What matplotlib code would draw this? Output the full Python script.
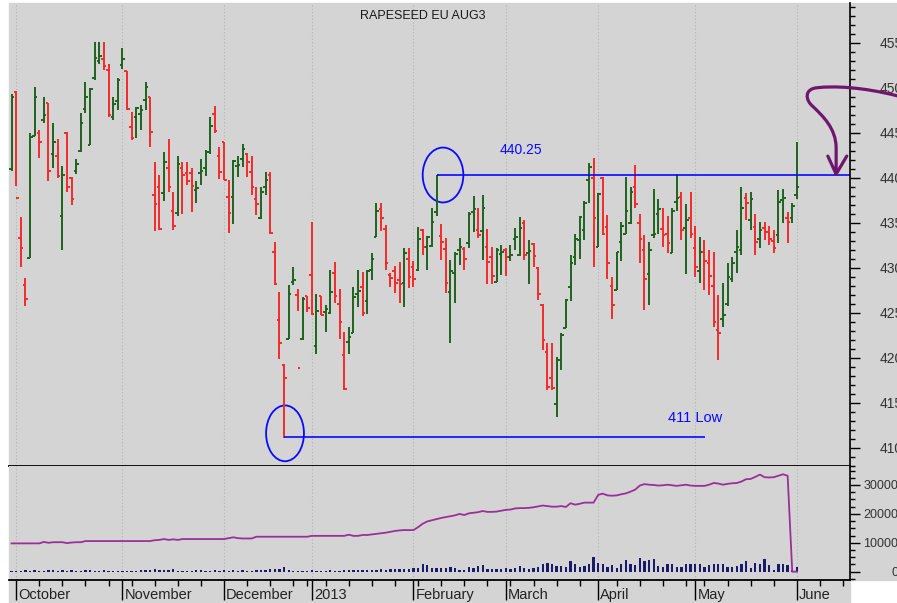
import numpy as np
import pandas as pd
import matplotlib
matplotlib.use('Agg')
import matplotlib.pyplot as plt
from matplotlib.patches import Ellipse, Rectangle, PathPatch
from matplotlib.path import Path
from matplotlib.ticker import MultipleLocator, FixedLocator, NullFormatter
from matplotlib.transforms import blended_transform_factory

plt.rcParams['font.family'] = ['Liberation Sans', 'DejaVu Sans']

# -----------------------------------------------------------------------------
# Data (daily OHLC, Sep 28 2012 -> Jun 3 2013, one value per trading day)
title = "RAPESEED EU AUG3"
holidays = ['2012-12-25', '2012-12-26', '2013-01-01', '2013-03-29', '2013-04-01', '2013-05-01']
month_names = ['October', 'November', 'December', '2013', 'February', 'March', 'April', 'May', 'June']

open_ = [
	441.0, 449.5, 433.3, 428.1, 431.1, 444.6, 445.0, 446.4, 448.3, 442.6, 442.4, 435.8, 445.0, 440.0, 440.8, 443.0, 447.6, 443.6, 451.1, 453.0, 453.2, 452.0, 446.7, 448.5,
	452.5, 451.9, 445.6, 446.7, 447.1, 448.6, 449.0, 438.1, 439.0, 438.3, 441.1, 436.3, 436.1, 441.1, 440.5, 440.5, 438.6, 440.5, 441.1, 442.9, 447.1, 442.4,
	444.0, 437.9, 437.9, 441.3, 442.1, 442.6, 440.6, 437.6, 435.5, 439.0, 440.3, 431.7, 424.2, 419.2, 422.1, 428.4, 427.0, 422.1, 426.9,
	429.2, 421.3, 426.9, 425.1, 425.0, 429.4, 426.0, 420.3, 421.8, 422.7, 427.1, 427.9, 426.3, 429.7, 433.4, 436.5, 434.3, 429.2, 429.6, 428.6, 428.3, 431.0,
	430.1, 429.7, 434.2, 432.3, 432.4, 436.2, 433.5, 432.1, 427.3, 429.4, 432.0, 432.1, 432.8, 436.2, 434.2, 434.1, 432.3, 431.2, 428.4, 431.5,
	432.0, 431.2, 433.2, 431.4, 435.0, 431.6, 432.6, 430.0, 425.9, 420.6, 417.8, 414.9, 419.7, 423.3, 427.9, 431.2, 433.1, 434.2, 439.7, 440.0,
	432.3, 440.0, 434.5, 428.0, 427.5, 432.9, 433.8, 435.0, 439.0, 435.0, 432.0, 429.3, 433.6, 436.0, 434.3, 433.8, 431.6, 437.3, 437.9, 434.4, 435.5,
	432.2, 429.6, 431.8, 430.5, 428.0, 423.1, 424.3, 426.0, 428.7, 431.8, 432.0, 437.8, 435.3, 434.5, 433.2, 434.4, 434.0, 433.0, 433.6, 437.5, 435.5, 435.5,
	438.1]
high = [
	449.3, 449.6, 435.6, 428.9, 445.0, 450.1, 445.3, 449.0, 448.3, 446.1, 444.3, 441.3, 445.1, 440.1, 442.1, 447.2, 450.6, 450.0, 455.1, 455.1, 455.1, 452.6, 449.0, 451.1,
	454.4, 451.9, 447.3, 447.8, 448.1, 450.6, 449.0, 441.8, 440.3, 442.9, 444.3, 438.4, 442.4, 441.7, 441.8, 441.1, 439.6, 442.1, 443.1, 446.7, 448.0, 443.4,
	444.0, 439.8, 442.0, 442.4, 443.8, 442.7, 442.4, 439.0, 439.0, 440.6, 440.6, 432.9, 427.3, 419.3, 428.1, 430.1, 427.6, 426.8, 426.9,
	435.1, 427.1, 426.9, 425.9, 429.7, 430.6, 427.6, 422.9, 423.4, 427.9, 429.7, 429.5, 429.7, 431.6, 437.2, 437.2, 434.7, 429.4, 430.2, 430.6, 432.2, 432.2,
	430.7, 434.5, 434.3, 433.5, 436.6, 440.3, 434.9, 433.3, 430.9, 431.8, 433.3, 432.3, 436.2, 438.0, 436.6, 438.1, 434.3, 432.3, 432.2, 432.5,
	432.2, 432.5, 434.4, 435.6, 435.3, 433.1, 432.8, 430.1, 426.0, 421.6, 421.6, 420.1, 422.7, 426.5, 431.4, 433.8, 435.7, 437.4, 441.6, 442.2,
	438.3, 440.1, 435.9, 429.0, 431.8, 435.1, 440.1, 439.0, 441.4, 436.0, 433.6, 432.9, 438.8, 437.6, 436.6, 435.7, 436.6, 440.4, 438.4, 437.1, 438.4,
	434.6, 433.4, 433.1, 432.0, 431.8, 427.0, 428.3, 430.5, 431.2, 434.2, 439.0, 438.3, 438.4, 436.0, 435.1, 435.1, 434.6, 434.2, 438.6, 438.8, 436.2, 437.2,
	444.0]
low = [
	440.8, 439.1, 430.1, 425.8, 431.1, 444.6, 442.2, 446.1, 439.6, 441.1, 440.0, 432.0, 438.4, 437.0, 440.4, 442.9, 447.2, 443.6, 450.9, 452.6, 452.0, 446.7, 446.4, 447.5,
	452.1, 447.5, 444.2, 444.4, 445.3, 447.5, 443.4, 434.1, 434.2, 437.4, 438.4, 434.2, 435.7, 436.0, 439.2, 436.2, 437.2, 439.2, 440.2, 442.6, 445.0, 439.9,
	439.7, 433.9, 434.9, 440.1, 441.2, 440.1, 438.1, 435.9, 435.4, 438.1, 433.7, 428.1, 419.9, 411.1, 422.1, 428.1, 425.2, 422.0, 425.1,
	424.7, 420.4, 424.7, 422.9, 424.9, 426.1, 422.1, 416.4, 420.4, 422.7, 425.6, 424.6, 424.9, 428.6, 433.4, 434.1, 429.8, 427.9, 427.2, 426.1, 425.6, 427.7,
	427.9, 429.6, 431.4, 429.8, 432.3, 435.7, 430.9, 427.2, 421.6, 426.1, 430.3, 429.8, 432.2, 434.0, 433.3, 430.9, 428.2, 428.2, 428.4, 429.2,
	429.1, 430.8, 432.0, 431.3, 430.9, 428.2, 430.1, 426.4, 420.9, 416.4, 416.4, 413.4, 418.6, 423.3, 426.3, 430.3, 431.0, 433.1, 437.2, 430.1,
	432.3, 433.6, 428.8, 424.3, 427.5, 430.7, 433.8, 434.9, 436.6, 430.5, 425.3, 425.9, 433.3, 433.8, 432.3, 431.6, 431.6, 436.3, 433.1, 429.3, 433.3,
	429.0, 428.3, 427.5, 427.0, 423.4, 419.8, 423.4, 425.7, 428.4, 429.4, 431.4, 435.3, 434.2, 431.4, 432.2, 433.1, 432.5, 431.6, 432.7, 435.0, 432.7, 435.0,
	437.6]
close = [
	449.0, 437.7, 432.2, 426.5, 444.5, 449.0, 444.0, 447.0, 440.8, 444.0, 440.2, 440.3, 439.0, 437.6, 441.5, 446.1, 449.0, 449.9, 453.3, 453.5, 452.4, 447.0, 448.2, 450.9,
	453.2, 447.6, 444.4, 447.7, 447.5, 450.1, 445.1, 437.1, 434.3, 441.7, 439.0, 434.6, 441.5, 440.3, 439.6, 439.1, 438.9, 440.7, 442.9, 445.7, 445.2, 440.6,
	439.8, 436.1, 441.9, 441.4, 443.2, 441.7, 439.0, 437.1, 438.4, 439.8, 433.9, 428.2, 421.6, 417.7, 427.1, 428.6, 418.9, 426.5, 425.5,
	424.9, 425.2, 424.8, 425.4, 427.3, 426.9, 424.0, 416.5, 422.3, 426.8, 427.4, 425.0, 429.6, 431.0, 436.3, 435.5, 430.5, 428.9, 428.3, 428.2, 431.6, 429.0,
	428.7, 433.2, 432.3, 433.4, 435.1, 440.25, 432.9, 428.3, 429.6, 431.5, 432.3, 431.0, 436.0, 436.5, 433.6, 436.6, 430.6, 429.1, 432.0, 431.7,
	431.2, 431.4, 433.4, 434.4, 431.4, 431.9, 431.3, 427.1, 422.0, 416.8, 416.6, 419.7, 422.5, 426.4, 430.5, 433.2, 435.6, 437.2, 441.2, 435.5,
	438.2, 433.7, 430.5, 425.9, 431.8, 434.6, 436.3, 438.4, 437.1, 433.2, 428.7, 432.0, 433.8, 436.5, 433.6, 432.8, 436.3, 437.8, 434.2, 435.3, 433.8,
	430.1, 431.8, 430.7, 429.1, 424.0, 422.7, 424.7, 429.0, 430.5, 432.3, 436.6, 437.2, 437.6, 432.9, 434.2, 434.0, 433.2, 432.2, 437.3, 437.8, 435.1, 436.9,
	439.0]

volume = [
	400, 350, 300, 450, 300, 500, 400, 350, 450, 500, 400, 550, 400, 450, 400, 400, 450, 550, 400, 400, 450, 400, 400, 350,
	300, 250, 350, 300, 700, 750, 600, 950, 700, 650, 500, 1000, 400, 350, 300, 400, 450, 500, 400, 400, 450, 350,
	450, 400, 450, 400, 550, 300, 250, 700, 750, 600, 1000, 900, 800, 1700, 700, 250, 300, 250, 200,
	550, 350, 400, 350, 450, 400, 400, 500, 450, 450, 600, 500, 650, 500, 700, 800, 750, 900, 850, 900, 1000, 1100,
	1300, 1450, 2500, 2190, 1380, 1380, 1380, 1380, 1610, 1380, 580, 460, 1610, 1380, 1960, 2190, 1040, 1040, 1040, 1040,
	1150, 1040, 1380, 1960, 1380, 1040, 1380, 1610, 2770, 3110, 2770, 1960, 1960, 1730, 3690, 2540, 1730, 1960, 2540, 5070,
	3110, 2540, 1730, 2190, 1380, 2540, 3920, 2540, 2190, 4610, 3690, 3920, 4270, 1960, 1730, 2770, 2540, 1730, 1730, 2540, 2770,
	2770, 2770, 1730, 2190, 2540, 2540, 2770, 1730, 1730, 1960, 2770, 3690, 1380, 3110, 2540, 4270, 2190, 580, 2770, 2770, 2310, 580,
	1610]

open_interest = [
	9800, 9800, 9800, 9800, 9800, 9800, 9800, 10300, 10000, 10200, 10200, 10200, 9900, 10100, 10200, 10200, 10600, 10600, 10600, 10600, 10600, 10600, 10600, 10600,
	10600, 10600, 10600, 10600, 10600, 10600, 10600, 10900, 11000, 11300, 11000, 11200, 11000, 11300, 11300, 11300, 11300, 11300, 11300, 11300, 11300, 11300,
	11300, 11600, 11900, 11600, 11500, 11500, 11500, 12100, 12100, 12100, 12100, 12100, 12100, 12100, 12100, 12100, 12100, 12100, 12100,
	12400, 12400, 12400, 12400, 12400, 12400, 12400, 12400, 12800, 12400, 12400, 12700, 12700, 12900, 13100, 13300, 13500, 13800, 14100, 14300, 14400, 14400,
	14400, 15400, 16600, 17400, 17800, 18200, 18600, 18900, 19200, 19500, 20000, 19600, 20200, 20400, 20600, 21000, 20700, 20700, 20800, 21100,
	21400, 21500, 21900, 22000, 22000, 22100, 22300, 22600, 22900, 22700, 22500, 22500, 22700, 22400, 23700, 23200, 23500, 23900, 23900, 23900,
	26600, 27000, 26400, 26300, 26400, 26800, 27100, 27700, 28400, 29800, 30300, 30100, 30000, 29800, 29900, 30100, 29900, 29700, 29900, 30100, 29800,
	29700, 29700, 29700, 30100, 30700, 30500, 30100, 30400, 30600, 30700, 31200, 32000, 32100, 32800, 33600, 32700, 32600, 32700, 33200, 33700, 33200, 0,
	0]

# -----------------------------------------------------------------------------
# Trading calendar (bars are drawn on a trading-day index, no holiday gaps)
days = pd.bdate_range('2012-09-28', '2013-06-28')
days = days[~days.isin(pd.to_datetime(holidays))]
x = np.arange(len(close))

month_idx = [i for i in range(1, len(days)) if days[i].month != days[i - 1].month]
week_idx = [i for i in range(1, len(days)) if days[i].dayofweek < days[i - 1].dayofweek]
month_idx = month_idx[:len(month_names)]

# -----------------------------------------------------------------------------
# Figure layout
BG = '#d4d4d4'
GREEN = '#1f621f'
RED = '#f42a2a'
BLUE = '#0a0aff'
PURPLE = '#6e1670'

fig = plt.figure(figsize=(8.97, 6.03), dpi=100)
fig.patch.set_facecolor('white')
fig.patches.append(Rectangle((9 / 897, 0), 841 / 897, 600 / 603, transform=fig.transFigure, color=BG, zorder=-10))
fig.patches.append(Rectangle((850 / 897, 23 / 603), 47 / 897, 577 / 603, transform=fig.transFigure, color=BG, zorder=-10))

ax = fig.add_axes([9 / 897, 137 / 603, 841 / 897, 463 / 603])
axv = fig.add_axes([9 / 897, 23 / 603, 841 / 897, 114 / 603])

xmin, xmax = -0.55, 181.5
for a in (ax, axv):
	a.set_facecolor(BG)
	a.set_xlim(xmin, xmax)
	a.spines['left'].set_visible(False)
	a.spines['top'].set_visible(False)
	a.spines['right'].set_linewidth(1.2)
	a.spines['bottom'].set_linewidth(1.3)
	a.yaxis.tick_right()
	for m in month_idx:
		a.axvline(m, color='#b4b4b4', lw=0.8, ls=(0, (1, 2)), zorder=0)

# -----------------------------------------------------------------------------
# Price panel
ax.set_ylim(407.97, 459.41)
cols = np.where(np.array(close) >= np.array(open_), GREEN, RED)
ax.vlines(x, low, high, colors=cols, lw=1.4)
ax.hlines(open_, x - 0.55, x, colors=cols, lw=1.4)
ax.hlines(close, x, x + 0.55, colors=cols, lw=1.4)

ax.yaxis.set_major_locator(MultipleLocator(5))
ax.yaxis.set_minor_locator(MultipleLocator(1))
ax.tick_params(axis='y', which='major', direction='out', length=7.2, width=1, pad=31, labelsize=10, labelcolor='#333333')
ax.tick_params(axis='y', which='minor', direction='out', length=3.6, width=1)
ax.tick_params(axis='x', which='both', bottom=False, labelbottom=False)
for lbl in ax.get_yticklabels():
	lbl.set_horizontalalignment('right')

ax.text(0.492, 0.972, title, transform=ax.transAxes, ha='center', va='center', fontsize=9, color='#1a1a1a')

# annotations
ax.hlines(440.25, 92, xmax, colors=BLUE, lw=1.2)
ax.hlines(411.2, 59, 150.1, colors=BLUE, lw=1.2)
ax.add_patch(Ellipse((93.4, 440.3), 8.8, 6.1, fill=False, ec=BLUE, lw=1.3))
ax.add_patch(Ellipse((59.2, 411.6), 8.2, 6.2, fill=False, ec=BLUE, lw=1.3))
ax.text(105.7, 443.1, '440.25', color=BLUE, fontsize=10, va='center')
ax.text(142.2, 413.3, '411 Low', color=BLUE, fontsize=10.5, va='center')

arrow = Path(
	[(191.7, 449.1), (184.0, 450.1), (178.0, 450.2), (174.5, 450.0),
	 (171.5, 449.9), (171.8, 448.6), (173.5, 447.9),
	 (175.5, 446.9), (178.5, 445.5), (178.5, 443.3),
	 (178.5, 440.4),
	 (176.7, 442.4), (178.5, 440.4), (180.8, 442.4)],
	[Path.MOVETO, Path.CURVE4, Path.CURVE4, Path.CURVE4,
	 Path.CURVE4, Path.CURVE4, Path.CURVE4,
	 Path.CURVE4, Path.CURVE4, Path.CURVE4,
	 Path.LINETO,
	 Path.MOVETO, Path.LINETO, Path.LINETO])
ax.add_patch(PathPatch(arrow, fill=False, ec=PURPLE, lw=2.3, capstyle='round', joinstyle='round', clip_on=False, zorder=5))

# -----------------------------------------------------------------------------
# Volume / open interest panel
axv.set_ylim(-2872, 36574)
axv.bar(x, volume, width=0.5, color='#1a1a6a', zorder=2)
axv.plot(x, open_interest, color='#9a2f9a', lw=1.3, zorder=3)

axv.yaxis.set_major_locator(MultipleLocator(10000))
axv.yaxis.set_minor_locator(MultipleLocator(2500))
axv.yaxis.set_major_formatter(lambda v, p: '{:d}'.format(int(v)))
axv.tick_params(axis='y', which='major', direction='out', length=7.2, width=1, pad=27.5, labelsize=9, labelcolor='#333333')
axv.tick_params(axis='y', which='minor', direction='out', length=3.6, width=1)
for lbl in axv.get_yticklabels():
	lbl.set_horizontalalignment('right')

axv.xaxis.set_major_locator(FixedLocator(month_idx))
axv.xaxis.set_minor_locator(FixedLocator(week_idx))
axv.xaxis.set_major_formatter(NullFormatter())
axv.tick_params(axis='x', which='major', direction='out', length=14.4, width=1)
axv.tick_params(axis='x', which='minor', direction='out', length=4.3, width=1)

trans = blended_transform_factory(axv.transData, axv.transAxes)
for m, name in zip(month_idx, month_names):
	axv.text(m + 0.45, -0.132, name, transform=trans, ha='left', va='center', fontsize=10.5, color='#222222')

fig.savefig('out.png', dpi=100, facecolor=fig.get_facecolor())
